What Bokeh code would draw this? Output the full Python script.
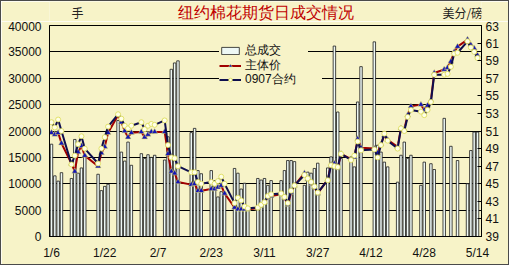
import numpy as np
import pandas as pd
from bokeh.plotting import figure
from bokeh.layouts import column
from bokeh.models import (Range1d, LinearAxis, FixedTicker, ColumnDataSource,
                          Legend, LegendItem)
from bokeh.core.properties import value
from bokeh.embed import file_html
from bokeh.resources import INLINE

# ---------------- data ----------------
dates = ["1/6", "1/7", "1/8", "1/9", "1/12", "1/13", "1/14", "1/15", "1/16",
         "1/20", "1/21", "1/22", "1/23", "1/26", "1/27", "1/28", "1/29", "1/30",
         "2/2", "2/3", "2/4", "2/5", "2/6", "2/9", "2/10", "2/11", "2/12", "2/13",
         "2/17", "2/18", "2/19", "2/20", "2/23", "2/24", "2/25", "2/26", "2/27",
         "3/2", "3/3", "3/4", "3/5", "3/6", "3/9", "3/10", "3/11", "3/12", "3/13",
         "3/16", "3/17", "3/18", "3/19", "3/20", "3/23", "3/24", "3/25", "3/26", "3/27",
         "3/30", "3/31", "4/1", "4/2", "4/3", "4/6", "4/7", "4/8", "4/9",
         "4/13", "4/14", "4/15", "4/16", "4/17", "4/20", "4/21", "4/22", "4/23", "4/24",
         "4/27", "4/28", "4/29", "4/30", "5/1", "5/4", "5/5", "5/6", "5/7", "5/8",
         "5/11", "5/12", "5/13", "5/14"]

volume = [17500, 11500, 10500, 12100, 11000, 18400, 12000, 13000, 15500,
          11800, 8700, 9500, 9900, 22000, 16000, 14300, 17900, 13500,
          15700, 14800, 15500, 15000, 15400, 14500, 18900, 31700, 32900, 33300,
          19700, 20500, 12500, 11900, 12500, 10600, 7500, 8500, 8400,
          12900, 12000, 9000, 10100, 5500, 11000, 10700, 11000, 9700, 10600,
          10600, 12500, 14400, 14400, 14200, 9700, 12200, 12000, 12900, 13900,
          13000, 15100, 36100, 23600, 14800, 15100, 13200, 25500, 32200,
          36900, 17300, 16000, 14100, 13200, 10300, 15400, 17900, 14800, 15400,
          9700, 14100, None, 13800, 12700, 22400, None, 17100, None, 14400,
          10000, 16300, 19800, 19800]

main_price = [50.8, 50.6, 50.8, 49.6, 47.3, 46.4, 48.6, 49.3, 48.2,
              47.0, 48.5, 49.2, 50.8, 52.8, 52.0, 51.0, 50.3, 50.8,
              50.9, 50.3, 50.6, 50.9, 50.9, 50.9, 48.4, 46.4, 46.2, 45.2,
              44.9, 45.0, 44.2, 44.2, 44.4, 44.4, 44.6, 44.8, 43.9,
              42.3, 42.1, 42.1, 42.1, 42.1, 42.2, 42.5, 42.9, 43.4, 43.6,
              43.8, 43.4, 42.6, 44.0, 44.8, 46.2, 45.5, 45.0, 44.6, 43.9,
              45.5, 47.2, 47.3, 46.8, 48.4, 47.8, 48.0, 50.1, 49.1,
              49.0, 48.5, 49.5, 50.5, 50.0, 49.2, 51.3, 51.2, 52.8, 53.8,
              54.0, 53.4, 53.9, 54.5, 57.6, 58.0, 58.2, 58.9, 60.0, 60.6,
              61.4, 60.8, 60.4, 59.6]

c0907 = [52.0, 51.4, 52.3, 51.0, 47.2, 48.2, 49.5, 50.4, 49.0,
         47.3, 49.0, 50.3, 51.5, 52.9, 52.4, 51.6, 51.3, 51.6,
         52.0, 51.2, 51.6, 51.8, 51.7, 52.2, 49.4, 48.0, 47.9, 47.0,
         46.3, 46.3, 45.2, 45.0, 45.2, 45.0, 45.3, 45.8, 45.0,
         42.8, 43.4, 43.1, 42.4, 42.2, 42.3, 42.6, 42.9, 43.6, 43.8,
         43.9, 43.5, 42.8, 44.2, 44.8, 46.0, 45.6, 45.2, 44.7, 44.0,
         45.4, 47.1, 47.0, 46.9, 48.4, 47.7, 48.2, 49.8, 48.8,
         48.9, 48.0, 49.4, 50.7, 49.9, 49.0, 51.3, 51.0, 52.6, 53.4,
         53.2, 52.8, 53.4, 54.3, 57.4, 57.4, 57.5, 58.3, 59.8, 59.9,
         61.2, 60.5, 60.0, 59.3]

tick_labels = ["1/6", "1/22", "2/7", "2/23", "3/11", "3/27", "4/12", "4/28", "5/14"]
vol_ticks = list(range(0, 40001, 5000))
price_ticks = list(range(39, 64, 2))

title_text = "纽约棉花期货日成交情况"
left_unit = "手"
right_unit = "美分/磅"
series_names = ["总成交", "主体价", "0907合约"]

# ---------------- helpers ----------------
base = pd.Timestamp("2009-01-06")


def day(s):
    return int((pd.to_datetime("2009/" + s, format="%Y/%m/%d") - base).days)


xd = [day(s) for s in dates]

bar_x = [x for x, v in zip(xd, volume) if v is not None]
bar_v = [v for v in volume if v is not None]
bars = ColumnDataSource(dict(x=bar_x, v=bar_v))
lines = ColumnDataSource(dict(x=xd, m=main_price, c=c0907))

BG = "#F7F3C8"
FONT = "Liberation Sans"
CJK = "Noto Sans CJK SC"

W = 507
HEAD_H = 20
MAIN_H = 243

# ---------------- header (title and unit labels) ----------------
head = figure(width=W, height=HEAD_H, output_backend="svg", toolbar_location=None,
              x_range=Range1d(0, W), y_range=Range1d(0, HEAD_H),
              x_axis_type=None, y_axis_type=None, min_border=0)
head.background_fill_color = BG
head.border_fill_color = BG
head.outline_line_color = None
head.grid.visible = False
head.text(x=[254], y=[9.5], text=[title_text], text_font=value(FONT),
          text_font_size="16px", text_color="#C00000", text_align="center",
          text_baseline="middle")
head.text(x=[33], y=[9], text=[left_unit], text_font=value(CJK),
          text_font_size="12px", text_color="#222222", text_align="center",
          text_baseline="middle")
head.text(x=[485], y=[9], text=[right_unit], text_font=value(CJK),
          text_font_size="12px", text_color="#222222", text_align="center",
          text_baseline="middle")

# ---------------- main chart ----------------
p = figure(width=W, height=MAIN_H, output_backend="svg", toolbar_location=None,
           x_range=Range1d(-0.6, 129.2), y_range=Range1d(0, 40000),
           min_border_left=48, min_border_right=27, min_border_top=4,
           min_border_bottom=28)
p.background_fill_color = BG
p.border_fill_color = BG
p.outline_line_color = "black"
p.outline_line_width = 1

p.extra_y_ranges = {"price": Range1d(39, 63)}

vb = p.vbar(x="x", top="v", width=0.74, source=bars, fill_color="#EEF8F5",
            line_color="#1a1a1a", line_width=0.8)
ml = p.line("x", "m", source=lines, y_range_name="price", line_color="#A00000",
            line_width=2)
mm = p.scatter("x", "m", source=lines, y_range_name="price", marker="triangle",
               size=6, fill_color="#1414B4", line_color="#E8E870", line_width=0.5)
cl = p.line("x", "c", source=lines, y_range_name="price", line_color="#0E0E4E",
            line_width=2)
cm = p.scatter("x", "c", source=lines, y_range_name="price", marker="circle",
               size=5, fill_color="#FFFFE6", line_color="#DADA50", line_width=0.8)

p.xgrid.visible = False
p.ygrid.ticker = FixedTicker(ticks=vol_ticks)
p.ygrid.grid_line_color = "black"
p.ygrid.grid_line_width = 1

ya = p.yaxis[0]
ya.ticker = FixedTicker(ticks=vol_ticks)
ya.major_tick_out = 0
ya.major_tick_in = 0
ya.minor_tick_out = 0
ya.minor_tick_in = 0
ya.major_label_standoff = 8
ya.axis_line_color = "black"

ra = LinearAxis(y_range_name="price", ticker=FixedTicker(ticks=price_ticks))
ra.major_tick_in = 4
ra.major_tick_out = 0
ra.minor_tick_in = 0
ra.minor_tick_out = 0
ra.major_label_standoff = 4
ra.axis_line_color = "black"
p.add_layout(ra, "right")

xa = p.xaxis[0]
xa.ticker = FixedTicker(ticks=[day(s) for s in tick_labels])
xa.major_label_overrides = {day(s): s for s in tick_labels}
xa.major_tick_in = 0
xa.major_tick_out = 0
xa.minor_tick_in = 0
xa.minor_tick_out = 0
xa.major_label_standoff = 9
xa.axis_line_color = "black"

for ax in (ya, ra, xa):
    ax.major_label_text_font = FONT
    ax.major_label_text_font_size = "12px"
    ax.major_label_text_color = "#111111"

# one single-row legend per series, so the row pitch matches the reference
legend_rows = [([vb], 177), ([ml, mm], 162), ([cl, cm], 148)]
for name, (rends, vy) in zip(series_names, legend_rows):
    lg = Legend(items=[LegendItem(label=name + "        ", renderers=rends)],
                location=(170, vy))
    lg.label_text_font = FONT
    lg.label_text_font_size = "12px"
    lg.label_text_color = "#111111"
    lg.glyph_width = 22
    lg.glyph_height = 9
    lg.label_height = 9
    lg.padding = 3
    lg.margin = 0
    lg.label_standoff = 4
    lg.background_fill_color = BG
    lg.background_fill_alpha = 1.0
    lg.border_line_color = None
    p.add_layout(lg, "center")

layout = column(head, p, spacing=0)
layout.styles = {"border": "1px solid #4a4a4a"}

open("out.html", "w").write(file_html(layout, INLINE))
